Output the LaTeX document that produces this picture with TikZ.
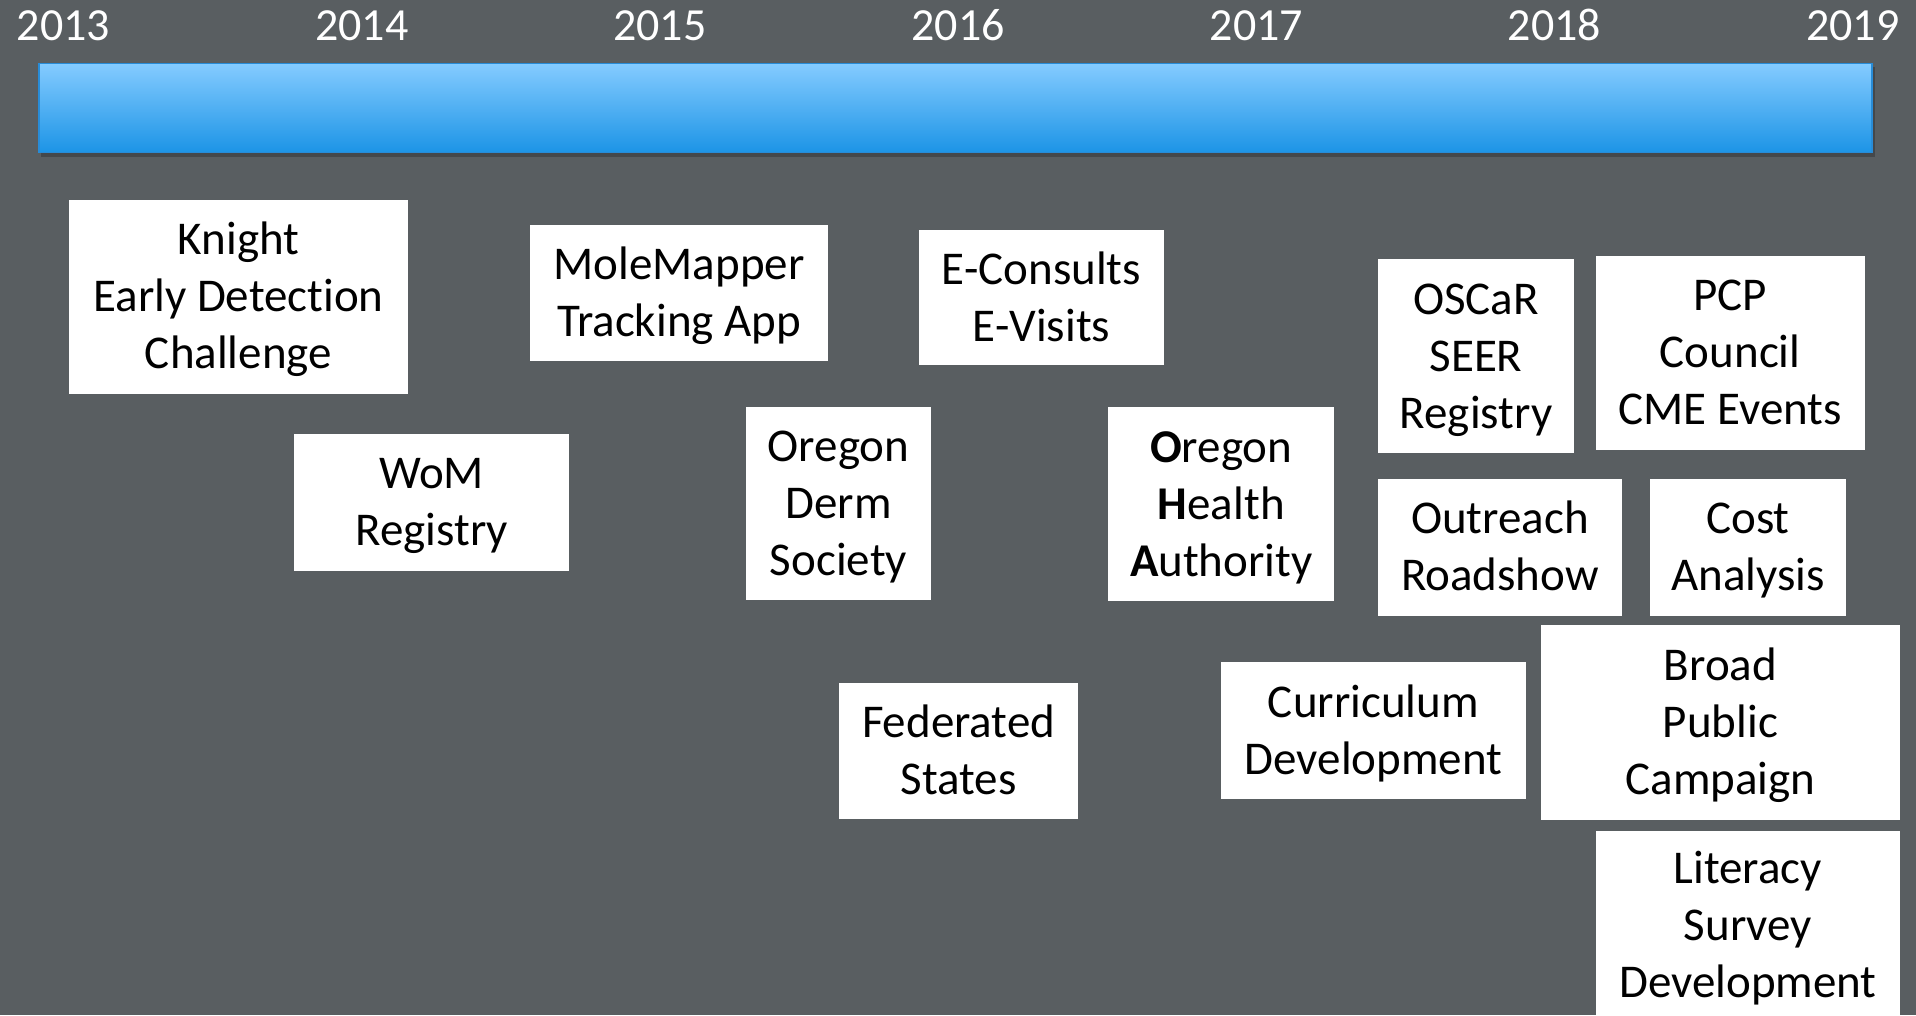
\documentclass[tikz,border=0pt]{standalone}
\usepackage{fontspec}
\setmainfont[Ligatures=NoCommon]{Carlito}
\definecolor{bg}{RGB}{89,94,97}
\definecolor{barTop}{RGB}{132,203,255}
\definecolor{barBot}{RGB}{28,148,230}
\definecolor{barEdge}{RGB}{40,140,215}
\definecolor{shadowc}{RGB}{60,64,67}
\newcommand\bl{\rule[-13.5pt]{0pt}{57pt}}
\tikzset{
  box/.style={fill=white, inner sep=0pt, align=center, text=black,
    font=\fontsize{47}{57}\selectfont},
  yearlbl/.style={text=white, inner sep=0pt, anchor=base,
    font=\fontsize{46}{55}\selectfont},
  bar/.style={inner sep=0pt, top color=barTop, bottom color=barBot,
    draw=barEdge, line width=1.5pt}
}
\begin{document}
\begin{tikzpicture}[x=1pt,y=-1pt]
\useasboundingbox (0,0) rectangle (1916,1015);
\clip (0,0) rectangle (1916,1015);
\fill[bg] (0,0) rectangle (1916,1015);

% timeline bar
\fill[shadowc, opacity=0.7] (41,67) rectangle (1875,157);
\node[bar, minimum width=1833pt, minimum height=89pt] (bar) at (955.5,108.1) {};

% years
\node[yearlbl] (y2013) at (63.5,40) {2013};
\node[yearlbl] (y2014) at (361.7,40) {2014};
\node[yearlbl] (y2015) at (659.9,40) {2015};
\node[yearlbl] (y2016) at (958.1,40) {2016};
\node[yearlbl] (y2017) at (1256.3,40) {2017};
\node[yearlbl] (y2018) at (1554.5,40) {2018};
\node[yearlbl] (y2019) at (1852.7,40) {2019};

% boxes
\node[box, minimum width=339pt, minimum height=193.5pt] (knight) at (238.5,296.75)
  {\bl Knight\\\bl Early Detection\\\bl Challenge};
\node[box, minimum width=275.4pt, minimum height=136.8pt] (wom) at (431.7,502.2)
  {\bl WoM\\\bl Registry};
\node[box, minimum width=298.6pt, minimum height=135.2pt] (mole) at (679.1,292.9)
  {\bl MoleMapper\\\bl Tracking App};
\node[box, minimum width=245.1pt, minimum height=135.6pt] (econs) at (1041.5,297.5)
  {\bl E-Consults\\\bl E-Visits};
\node[box, minimum width=185pt, minimum height=193pt] (derm) at (838.5,503.5)
  {\bl Oregon\\\bl Derm\\\bl Society};
\node[box, minimum width=238.3pt, minimum height=135.7pt] (fed) at (958.6,750.8)
  {\bl Federated\\\bl States};
\node[box, minimum width=226pt, minimum height=194pt] (oha) at (1221.3,504)
  {\bl\textbf{O}regon\\\bl\textbf{H}ealth\\\bl\textbf{A}uthority};
\node[box, minimum width=195.5pt, minimum height=194.3pt] (oscar) at (1476,356.2)
  {\bl OSCaR\\\bl SEER\\\bl Registry};
\node[box, minimum width=268.8pt, minimum height=193.7pt] (pcp) at (1730.2,352.8)
  {\bl PCP\\\bl Council\\\bl CME Events};
\node[box, minimum width=243.2pt, minimum height=136.8pt] (outreach) at (1499.9,547.4)
  {\bl Outreach\\\bl Roadshow};
\node[box, minimum width=196.7pt, minimum height=136.8pt] (cost) at (1748,547.4)
  {\bl Cost\\\bl Analysis};
\node[box, minimum width=305.5pt, minimum height=136.7pt] (curr) at (1373.4,730.6)
  {\bl Curriculum\\\bl Development};
\node[box, minimum width=359.2pt, minimum height=195pt] (broad) at (1720.4,722.5)
  {\bl Broad\\\bl Public\\\bl Campaign};
\node[box, minimum width=304.2pt, minimum height=189pt] (literacy) at (1747.9,925)
  {\bl Literacy\\\bl Survey\\\bl Development};
\end{tikzpicture}
\end{document}
